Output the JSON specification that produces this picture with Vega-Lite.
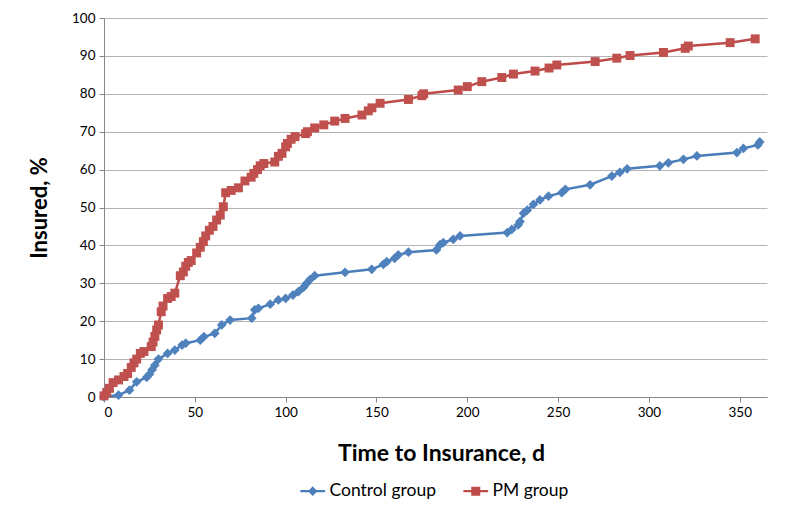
{
  "$schema": "https://vega.github.io/schema/vega-lite/v6.json",
  "autosize": "none",
  "width": 663,
  "height": 379,
  "padding": {"left": 104, "top": 18, "right": 28, "bottom": 118},
  "background": "white",
  "config": {
    "font": "Lato",
    "view": {"stroke": null},
    "axis": {"labelFont": "Lato", "titleFont": "Lato", "labelColor": "#000000", "titleColor": "#000000"}
  },
  "datasets": {
    "pts": [
      {"group": "Control group", "day": 0, "pct": 0},
      {"group": "Control group", "day": 8, "pct": 0.5},
      {"group": "Control group", "day": 14, "pct": 1.8},
      {"group": "Control group", "day": 18, "pct": 4},
      {"group": "Control group", "day": 23.5, "pct": 5.2},
      {"group": "Control group", "day": 25, "pct": 6},
      {"group": "Control group", "day": 26.5, "pct": 7.2},
      {"group": "Control group", "day": 28, "pct": 8.4},
      {"group": "Control group", "day": 30, "pct": 10},
      {"group": "Control group", "day": 35, "pct": 11.5},
      {"group": "Control group", "day": 39, "pct": 12.4},
      {"group": "Control group", "day": 43, "pct": 13.7},
      {"group": "Control group", "day": 45, "pct": 14.2},
      {"group": "Control group", "day": 53, "pct": 15},
      {"group": "Control group", "day": 55, "pct": 15.9},
      {"group": "Control group", "day": 61, "pct": 16.8},
      {"group": "Control group", "day": 64.8, "pct": 19},
      {"group": "Control group", "day": 69.4, "pct": 20.3},
      {"group": "Control group", "day": 81.3, "pct": 20.8},
      {"group": "Control group", "day": 83, "pct": 23},
      {"group": "Control group", "day": 85, "pct": 23.4},
      {"group": "Control group", "day": 91.5, "pct": 24.5},
      {"group": "Control group", "day": 96, "pct": 25.6},
      {"group": "Control group", "day": 100, "pct": 26},
      {"group": "Control group", "day": 104, "pct": 26.9},
      {"group": "Control group", "day": 107, "pct": 27.8},
      {"group": "Control group", "day": 109.8, "pct": 28.9},
      {"group": "Control group", "day": 111.6, "pct": 30},
      {"group": "Control group", "day": 113.4, "pct": 31},
      {"group": "Control group", "day": 116, "pct": 32},
      {"group": "Control group", "day": 132.7, "pct": 32.9},
      {"group": "Control group", "day": 147.4, "pct": 33.7},
      {"group": "Control group", "day": 153.8, "pct": 35},
      {"group": "Control group", "day": 155.7, "pct": 35.7},
      {"group": "Control group", "day": 160, "pct": 36.6},
      {"group": "Control group", "day": 162, "pct": 37.5},
      {"group": "Control group", "day": 167.6, "pct": 38.2},
      {"group": "Control group", "day": 183, "pct": 38.8},
      {"group": "Control group", "day": 185, "pct": 40.2},
      {"group": "Control group", "day": 186.8, "pct": 40.7},
      {"group": "Control group", "day": 192.3, "pct": 41.6},
      {"group": "Control group", "day": 196, "pct": 42.5},
      {"group": "Control group", "day": 222, "pct": 43.4},
      {"group": "Control group", "day": 224.5, "pct": 44.2},
      {"group": "Control group", "day": 228, "pct": 45.4},
      {"group": "Control group", "day": 229, "pct": 46.3},
      {"group": "Control group", "day": 231, "pct": 48.5},
      {"group": "Control group", "day": 233, "pct": 49.3},
      {"group": "Control group", "day": 236.4, "pct": 50.8},
      {"group": "Control group", "day": 240, "pct": 52},
      {"group": "Control group", "day": 244.7, "pct": 53},
      {"group": "Control group", "day": 252, "pct": 53.9},
      {"group": "Control group", "day": 254, "pct": 54.8},
      {"group": "Control group", "day": 267.6, "pct": 56},
      {"group": "Control group", "day": 279.6, "pct": 58.3},
      {"group": "Control group", "day": 284, "pct": 59.3},
      {"group": "Control group", "day": 288, "pct": 60.2},
      {"group": "Control group", "day": 306, "pct": 61},
      {"group": "Control group", "day": 310.7, "pct": 61.8},
      {"group": "Control group", "day": 319, "pct": 62.7},
      {"group": "Control group", "day": 326.4, "pct": 63.6},
      {"group": "Control group", "day": 348.4, "pct": 64.5},
      {"group": "Control group", "day": 352, "pct": 65.6},
      {"group": "Control group", "day": 360, "pct": 66.5},
      {"group": "Control group", "day": 361, "pct": 67.3},
      {"group": "PM group", "day": 0, "pct": 0.3},
      {"group": "PM group", "day": 1.5, "pct": 1.2},
      {"group": "PM group", "day": 3, "pct": 2.3},
      {"group": "PM group", "day": 5, "pct": 3.8},
      {"group": "PM group", "day": 8, "pct": 4.5},
      {"group": "PM group", "day": 11, "pct": 5.4},
      {"group": "PM group", "day": 13, "pct": 6.2},
      {"group": "PM group", "day": 15, "pct": 7.8},
      {"group": "PM group", "day": 16.5, "pct": 9},
      {"group": "PM group", "day": 18, "pct": 10},
      {"group": "PM group", "day": 20, "pct": 11.5},
      {"group": "PM group", "day": 22, "pct": 12},
      {"group": "PM group", "day": 26, "pct": 13.3},
      {"group": "PM group", "day": 27, "pct": 14.5},
      {"group": "PM group", "day": 28, "pct": 16},
      {"group": "PM group", "day": 29, "pct": 17.7},
      {"group": "PM group", "day": 30, "pct": 19},
      {"group": "PM group", "day": 31.5, "pct": 22.5},
      {"group": "PM group", "day": 32.5, "pct": 24},
      {"group": "PM group", "day": 35, "pct": 26},
      {"group": "PM group", "day": 37, "pct": 26.5},
      {"group": "PM group", "day": 39, "pct": 27.4},
      {"group": "PM group", "day": 42, "pct": 32},
      {"group": "PM group", "day": 43.7, "pct": 33},
      {"group": "PM group", "day": 45, "pct": 34.5},
      {"group": "PM group", "day": 46.4, "pct": 35.5},
      {"group": "PM group", "day": 48, "pct": 36},
      {"group": "PM group", "day": 51, "pct": 38},
      {"group": "PM group", "day": 53, "pct": 39.5},
      {"group": "PM group", "day": 54.7, "pct": 41},
      {"group": "PM group", "day": 56, "pct": 42.5},
      {"group": "PM group", "day": 58, "pct": 44},
      {"group": "PM group", "day": 60, "pct": 45},
      {"group": "PM group", "day": 62, "pct": 46.7},
      {"group": "PM group", "day": 64, "pct": 48},
      {"group": "PM group", "day": 65.7, "pct": 50.2},
      {"group": "PM group", "day": 67, "pct": 53.9},
      {"group": "PM group", "day": 70, "pct": 54.5},
      {"group": "PM group", "day": 74, "pct": 55.2},
      {"group": "PM group", "day": 77.6, "pct": 57},
      {"group": "PM group", "day": 81, "pct": 58},
      {"group": "PM group", "day": 82.5, "pct": 59},
      {"group": "PM group", "day": 84.5, "pct": 60},
      {"group": "PM group", "day": 86, "pct": 61},
      {"group": "PM group", "day": 88, "pct": 61.6},
      {"group": "PM group", "day": 94, "pct": 62},
      {"group": "PM group", "day": 96, "pct": 63.5},
      {"group": "PM group", "day": 98, "pct": 64.3},
      {"group": "PM group", "day": 100, "pct": 66},
      {"group": "PM group", "day": 101, "pct": 66.9},
      {"group": "PM group", "day": 103, "pct": 68},
      {"group": "PM group", "day": 105.2, "pct": 68.7},
      {"group": "PM group", "day": 111, "pct": 69.5},
      {"group": "PM group", "day": 112, "pct": 70},
      {"group": "PM group", "day": 116, "pct": 71},
      {"group": "PM group", "day": 121, "pct": 71.8},
      {"group": "PM group", "day": 127, "pct": 72.8},
      {"group": "PM group", "day": 132.7, "pct": 73.5},
      {"group": "PM group", "day": 142, "pct": 74.4},
      {"group": "PM group", "day": 145.5, "pct": 75.5},
      {"group": "PM group", "day": 147.5, "pct": 76.3},
      {"group": "PM group", "day": 152, "pct": 77.5},
      {"group": "PM group", "day": 167.6, "pct": 78.5},
      {"group": "PM group", "day": 175, "pct": 79.5},
      {"group": "PM group", "day": 176, "pct": 80},
      {"group": "PM group", "day": 195, "pct": 81},
      {"group": "PM group", "day": 200, "pct": 81.9},
      {"group": "PM group", "day": 208, "pct": 83.2},
      {"group": "PM group", "day": 219, "pct": 84.3},
      {"group": "PM group", "day": 225.4, "pct": 85.2},
      {"group": "PM group", "day": 237.3, "pct": 86},
      {"group": "PM group", "day": 245, "pct": 86.8},
      {"group": "PM group", "day": 249.3, "pct": 87.6},
      {"group": "PM group", "day": 270.4, "pct": 88.5},
      {"group": "PM group", "day": 282.3, "pct": 89.4},
      {"group": "PM group", "day": 289.6, "pct": 90.1},
      {"group": "PM group", "day": 308, "pct": 90.9},
      {"group": "PM group", "day": 320, "pct": 92},
      {"group": "PM group", "day": 321.7, "pct": 92.6},
      {"group": "PM group", "day": 344.7, "pct": 93.5},
      {"group": "PM group", "day": 358.5, "pct": 94.5}
    ]
  },
  "data": {"name": "pts"},
  "encoding": {
    "x": {
      "field": "day", "type": "quantitative",
      "scale": {"domain": [0, 365], "nice": false, "zero": false},
      "axis": {
        "title": "Time to Insurance, d", "values": [0, 50, 100, 150, 200, 250, 300, 350],
        "grid": false, "domainColor": "#888888", "tickColor": "#888888", "tickSize": 5,
        "labelFontSize": 13.5, "labelPadding": 3,
        "titleFontSize": 23, "titleFontWeight": "bold", "titleX": 337, "titleY": 56, "titleBaseline": "middle"
      }
    },
    "y": {
      "field": "pct", "type": "quantitative",
      "scale": {"domain": [0, 100], "nice": false},
      "axis": {
        "title": "Insured, %", "values": [0, 10, 20, 30, 40, 50, 60, 70, 80, 90, 100],
        "grid": true, "gridColor": "#b3b3b3", "gridWidth": 1,
        "domainColor": "#888888", "tickColor": "#888888", "tickSize": 5,
        "labelFontSize": 13.5, "labelPadding": 4,
        "titleFontSize": 22, "titleFontWeight": "bold",
        "titleX": -65, "titleY": 189.5, "titleBaseline": "middle"
      }
    }
  },
  "layer": [
    {
      "mark": {"type": "line", "strokeWidth": 2.5},
      "encoding": {
        "color": {
          "field": "group", "type": "nominal",
          "scale": {"domain": ["Control group", "PM group"], "range": ["#4a7ebb", "#be4b48"]},
          "legend": {
            "title": null, "orient": "none", "legendX": 200, "legendY": 464,
            "direction": "horizontal", "labelFontSize": 17.5, "labelFont": "Lato",
            "labelColor": "#000000", "columnPadding": 22, "symbolSize": 64, "labelOffset": 8,
            "symbolStrokeWidth": 2.2,
            "encoding": {
              "symbols": {
                "shape": {"value": {"expr": "datum.value === 'Control group' ? 'M-3.1,0H3.1M0,-0.8L0.8,0L0,0.8L-0.8,0Z' : 'M-3.1,0H3.1M-0.85,-0.85H0.85V0.85H-0.85Z'"}},
                "size": {"value": 64},
                "strokeWidth": {"value": 2.2},
                "fill": {"value": {"expr": "scale('color', datum.value)"}},
                "stroke": {"value": {"expr": "scale('color', datum.value)"}},
                "opacity": {"value": 1}
              }
            }
          }
        }
      }
    },
    {
      "transform": [{"filter": "datum.group === 'Control group'"}],
      "mark": {"type": "point", "filled": true, "opacity": 1, "shape": "diamond", "size": 95, "color": "#4f81bd"}
    },
    {
      "transform": [{"filter": "datum.group === 'PM group'"}],
      "mark": {"type": "point", "filled": true, "opacity": 1, "shape": "square", "size": 80, "color": "#c0504d"}
    }
  ]
}
